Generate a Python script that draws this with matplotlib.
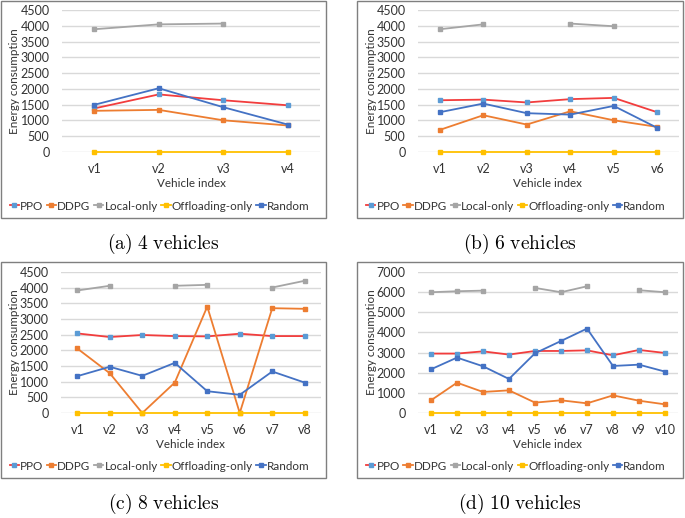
import numpy as np
import matplotlib.pyplot as plt
from matplotlib.patches import Rectangle

plt.rcParams['font.family'] = ['Lato', 'DejaVu Sans']
plt.rcParams['mathtext.fontset'] = 'cm'

nan = np.nan

##########################
# Data
##########################

series_names = ['PPO', 'DDPG', 'Local-only', 'Offloading-only', 'Random']
captions = ['(a) 4 vehicles', '(b) 6 vehicles', '(c) 8 vehicles', '(d) 10 vehicles']

ppo_4 = [1380, 1825, 1640, 1480]
ddpg_4 = [1305, 1335, 1005, 840]
local_4 = [3890, 4045, 4070, nan]
off_4 = [0, 0, 0, 0]
rand_4 = [1495, 2020, 1420, 870]

ppo_6 = [1640, 1660, 1570, 1675, 1715, 1260]
ddpg_6 = [700, 1165, 870, 1290, 1005, 795]
local_6 = [3890, 4045, nan, 4070, 3985, nan]
off_6 = [0, 0, 0, 0, 0, 0]
rand_6 = [1260, 1535, 1230, 1185, 1460, 765]

ppo_8 = [2540, 2425, 2490, 2455, 2445, 2530, 2455, 2455]
ddpg_8 = [2060, 1270, 0, 970, 3395, 0, 3345, 3325]
local_8 = [3910, 4060, nan, 4060, 4090, nan, 4005, 4220]
off_8 = [0, 0, 0, 0, 0, 0, 0, 0]
rand_8 = [1175, 1475, 1185, 1600, 695, 580, 1325, 970]

ppo_10 = [2950, 2950, 3060, 2900, 3080, 3080, 3110, 2865, 3130, 2980]
ddpg_10 = [630, 1505, 1045, 1125, 515, 630, 480, 875, 610, 430]
local_10 = [5995, 6045, 6075, nan, 6210, 5995, 6290, nan, 6095, 5995]
off_10 = [0, 0, 0, 0, 0, 0, 0, 0, 0, 0]
rand_10 = [2170, 2750, 2320, 1690, 2965, 3575, 4190, 2335, 2400, 2055]

panels = [
    [ppo_4, ddpg_4, local_4, off_4, rand_4],
    [ppo_6, ddpg_6, local_6, off_6, rand_6],
    [ppo_8, ddpg_8, local_8, off_8, rand_8],
    [ppo_10, ddpg_10, local_10, off_10, rand_10],
]
y_max = [4500, 4500, 4500, 7000]
y_step = [500, 500, 500, 1000]

##########################
# Styles / layout (pixels)
##########################

line_colors = ['#F23D3D', '#ED7D31', '#A5A5A5', '#FFC000', '#4472C4']
marker_colors = ['#5B9BD5', '#ED7D31', '#A5A5A5', '#FFC000', '#4472C4']
text_color = '#333333'
fs = 8.4

W, H = 685, 518
# box: x0, y0(top), x1, y1(bottom); axes: x0, top, x1, bottom
boxes = [(1, 1, 326, 218), (357, 1, 683, 218),
         (1, 262, 326, 478), (357, 262, 683, 478)]
axes_px = [(62, 10, 320, 152), (418, 10, 679, 152),
           (61, 272, 321, 413), (418, 272, 678, 413)]


def fx(x):
    return x / W


def fy(y):
    return 1 - y / H


fig = plt.figure(figsize=(W / 100, H / 100), dpi=100)

for i in range(4):
    bx0, by0, bx1, by1 = boxes[i]
    fig.patches.append(Rectangle((fx(bx0), fy(by1)), fx(bx1 - bx0), (by1 - by0) / H,
                                 transform=fig.transFigure, fill=False,
                                 edgecolor='#7F7F7F', linewidth=1.0))
    ax0, at, ax1, ab = axes_px[i]
    ax = fig.add_axes([fx(ax0), fy(ab), fx(ax1 - ax0), (ab - at) / H])
    data = panels[i]
    n = len(data[0])
    xs = np.arange(n)
    for k in range(5):
        ax.plot(xs, data[k], color=line_colors[k], linewidth=1.3,
                marker='s', markersize=2.2, markerfacecolor=marker_colors[k],
                markeredgecolor=marker_colors[k], label=series_names[k],
                clip_on=False, zorder=3)
    ax.set_xlim(-0.5, n - 0.5)
    ax.set_ylim(0, y_max[i])
    ax.set_yticks(np.arange(0, y_max[i] + 1, y_step[i]))
    ax.set_xticks(xs)
    ax.set_xticklabels(['v%d' % (j + 1) for j in range(n)])
    ax.yaxis.grid(True, color='#D9D9D9', linewidth=1.0)
    ax.set_axisbelow(True)
    for s in ax.spines.values():
        s.set_visible(False)
    ax.tick_params(length=0, labelsize=fs + 0.6, colors=text_color)
    ax.tick_params(axis='y', pad=9)
    ax.tick_params(axis='x', pad=8)

    cx = (bx0 + bx1) / 2
    fig.text(fx(191 + (ax0 - 62)), fy(ab + 31), 'Vehicle index',
             ha='center', va='center', fontsize=fs, color=text_color)
    fig.text(fx(bx0 + 14), fy((at + ab) / 2), 'Energy consumption',
             ha='center', va='center', rotation=90, fontsize=fs, color=text_color)
    ax.legend(loc='center', bbox_to_anchor=(fx(cx - 4), fy(by1 - 12)),
              bbox_transform=fig.transFigure, ncol=5, frameon=False,
              fontsize=fs, handlelength=0.8, handletextpad=0.1,
              columnspacing=0.3, borderpad=0, borderaxespad=0,
              labelcolor=text_color)
    cap = captions[i].replace(' ', r'\ ')
    fig.text(fx(cx), fy(by1 + 26), r'$\mathrm{' + cap + '}$',
             ha='center', va='center', fontsize=14)

plt.savefig('out.png', dpi=100)
plt.close()
